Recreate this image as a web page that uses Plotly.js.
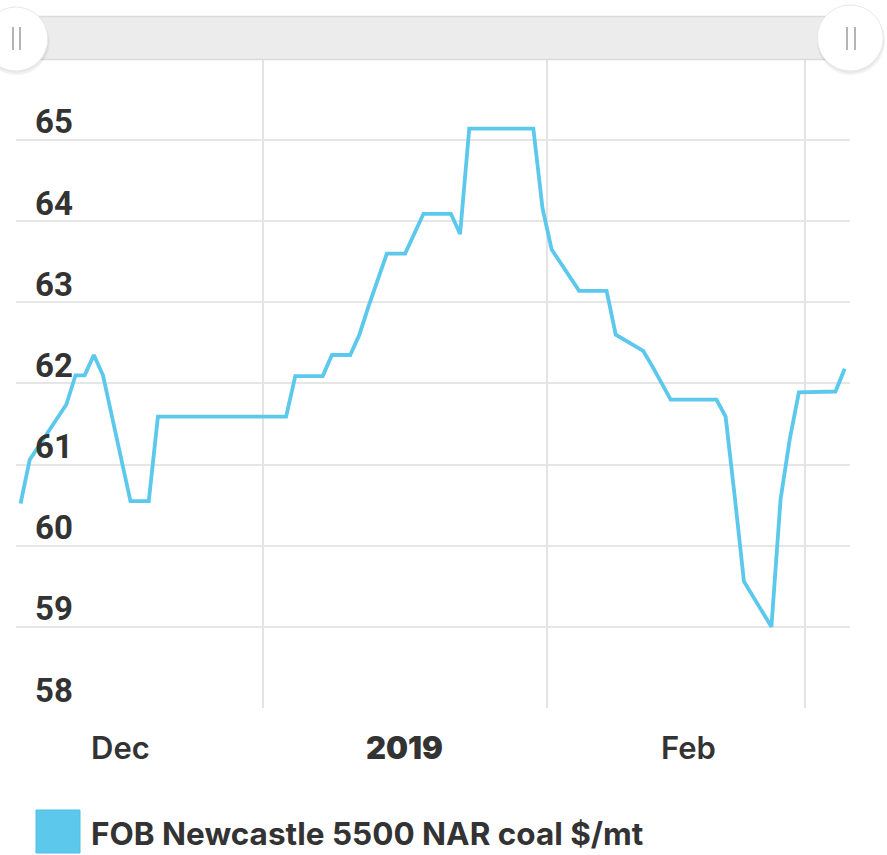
<!DOCTYPE html>
<html>
<head>
<meta charset="utf-8">
<script src="https://cdn.plot.ly/plotly-3.0.1.min.js"></script>
<style>
html,body{margin:0;padding:0;background:#fff;}
#chart{width:887px;height:855px;}
</style>
</head>
<body>
<div id="chart"></div>
<script>
// ---- data ----
const dates = [
  "2018-11-20","2018-11-21","2018-11-25","2018-11-26","2018-11-27","2018-11-28","2018-11-29",
  "2018-12-02","2018-12-04","2018-12-05","2018-12-19","2018-12-20","2018-12-23","2018-12-24",
  "2018-12-26","2018-12-27","2018-12-28","2018-12-30","2019-01-01","2019-01-03","2019-01-06",
  "2019-01-07","2019-01-08","2019-01-15","2019-01-16","2019-01-17","2019-01-20","2019-01-23",
  "2019-01-24","2019-01-27","2019-01-28","2019-01-30","2019-02-04","2019-02-05","2019-02-06",
  "2019-02-07","2019-02-10","2019-02-11","2019-02-12","2019-02-13","2019-02-17","2019-02-18"
];
const prices = [
  60.52,61.06,61.74,62.10,62.10,62.35,62.10,
  60.55,60.55,61.59,61.59,62.09,62.09,62.35,
  62.35,62.60,62.95,63.60,63.60,64.09,64.09,
  63.84,65.14,65.14,64.16,63.65,63.14,63.14,
  62.60,62.40,62.21,61.80,61.80,61.59,60.60,
  59.56,59.00,60.57,61.31,61.89,61.90,62.18
];
const seriesName = "FOB Newcastle 5500 NAR coal $/mt";
const yTickVals = [58,59,60,61,62,63,64,65];
const xTickVals = ["2018-12-01","2019-01-01","2019-02-01"];
const xTickText = ["Dec","2019","Feb"];
const xTickWeight = [600,900,600];
const xGridVals = ["2018-12-16 11:30","2019-01-16 12:00","2019-02-13 16:00"];
const xRange = ["2018-11-19 12:00","2019-02-18 14:00"];
const yRange = [58, 65.985];

// ---- layout geometry (pixels) ----
const W = 887, H = 855;
const M = {l:16, r:37, t:60, b:147};
const PW = W - M.l - M.r, PH = H - M.t - M.b;
const px = x => (x - M.l) / PW;
const py = y => (M.t + PH - y) / PH;

const lineColor = "#5bc8ec";
const textColor = "#333333";
const fontY = "Roboto, 'Open Sans', sans-serif";
const fontT = "Inter, Roboto, sans-serif";

const annotations = [];
yTickVals.forEach(v => {
  annotations.push({
    xref:"paper", yref:"y", x:px(33), y:v, xanchor:"left", yanchor:"middle",
    yshift:18, showarrow:false, text:String(v),
    font:{family:fontY, size:33, color:textColor, weight:700}
  });
});
xTickVals.forEach((d,i) => {
  annotations.push({
    xref:"x", yref:"paper", x:d, y:0, xanchor:"center", yanchor:"middle",
    xshift:-1, yshift:-39, showarrow:false, text:xTickText[i],
    font:{family:fontT, size:31, color:textColor, weight:xTickWeight[i]}
  });
});
annotations.push({
  xref:"paper", yref:"paper", x:px(89), y:py(833), xanchor:"left", yanchor:"middle",
  showarrow:false, text:seriesName,
  font:{family:fontT, size:31.5, color:textColor, weight:700}
});

function circ(cx, cy, r, fill, line, lw){
  return {type:"circle", xref:"paper", yref:"paper", layer:"above",
    x0:px(cx-r), x1:px(cx+r), y0:py(cy+r), y1:py(cy-r),
    fillcolor:fill, line:{color:line, width:lw}};
}
function seg(x0,y0,x1,y1,color,w){
  return {type:"line", xref:"paper", yref:"paper", layer:"above",
    x0:px(x0), x1:px(x1), y0:py(y0), y1:py(y1), line:{color:color, width:w}};
}

const shapes = [
  // navigator bar
  {type:"rect", xref:"paper", yref:"paper", layer:"above",
   x0:px(10), x1:px(850), y0:py(60), y1:py(16),
   fillcolor:"#ececec", line:{width:0}},
  seg(10,16.5,850,16.5,"#dcdcdc",1.5),
  seg(10,59.5,850,59.5,"#dcdcdc",1.5),
  // handle shadows
  circ(16.5,42,33,"rgba(0,0,0,0.05)","rgba(0,0,0,0)",0),
  circ(851,41,34,"rgba(0,0,0,0.05)","rgba(0,0,0,0)",0),
  circ(16,40.5,32.5,"rgba(0,0,0,0.04)","rgba(0,0,0,0)",0),
  circ(850.5,39.5,33.5,"rgba(0,0,0,0.04)","rgba(0,0,0,0)",0),
  // handles
  circ(15.8,39,32,"#ffffff","#e8e8e8",1),
  circ(850.3,38,33,"#ffffff","#e8e8e8",1),
  // grips
  seg(13,27,13,50,"#b4b4b4",2),
  seg(20,27,20,50,"#b4b4b4",2),
  seg(847,27,847,50,"#b4b4b4",2),
  seg(855,27,855,50,"#b4b4b4",2),
  // legend swatch
  {type:"rect", xref:"paper", yref:"paper", layer:"above",
   x0:px(36), x1:px(80), y0:py(853), y1:py(810),
   fillcolor:lineColor, line:{color:"#4fc0e8", width:1}}
];

const trace = {
  x: dates, y: prices, type:"scatter", mode:"lines", name:seriesName,
  line:{color:lineColor, width:3.8}, hoverinfo:"x+y", showlegend:false
};

const layout = {
  width:W, height:H, margin:M,
  paper_bgcolor:"#ffffff", plot_bgcolor:"#ffffff",
  showlegend:false,
  xaxis:{
    type:"date", range:xRange, showgrid:false, zeroline:false,
    showticklabels:false, ticks:"", showline:false,
    minor:{tickmode:"array", tickvals:xGridVals, showgrid:true,
           gridcolor:"#e3e3e3", gridwidth:1.5, ticks:""}
  },
  yaxis:{
    range:yRange, tickmode:"array", tickvals:yTickVals, showticklabels:false,
    showgrid:true, gridcolor:"#e6e6e6", gridwidth:2, zeroline:false, ticks:"", showline:false
  },
  annotations:annotations,
  shapes:shapes
};

Plotly.newPlot("chart", [trace], layout, {displayModeBar:false, staticPlot:true});
</script>
</body>
</html>
